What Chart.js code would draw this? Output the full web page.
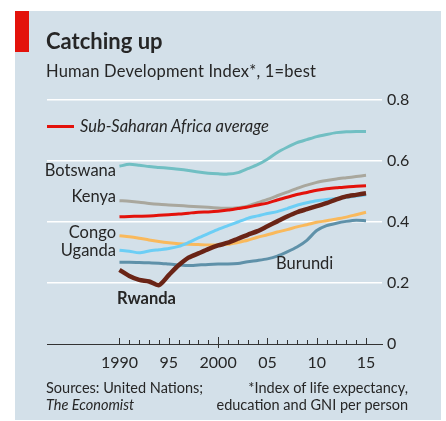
<!DOCTYPE html>
<html>
<head>
<meta charset="utf-8">
<script src="https://cdn.jsdelivr.net/npm/chart.js@4.4.1/dist/chart.umd.min.js"></script>
<style>
  html, body { margin: 0; padding: 0; background: #fff; }
  #wrap { position: relative; width: 446px; height: 421px; overflow: hidden; font-family: Lato, "Open Sans", sans-serif; color: #262626; }
  #bg { position: absolute; left: 15px; top: 11px; width: 426px; height: 409px; background: #d3e0e9; }
  #bar { position: absolute; left: 15px; top: 11px; width: 14px; height: 41px; background: #e3120b; }
  #wrap canvas { position: absolute; left: 0; top: 0; }
  .t { position: absolute; line-height: 1; white-space: nowrap; }
  .title { left: 46px; top: 30px; font-size: 22px; font-weight: bold; }
  .sub { left: 46px; top: 63px; font-size: 16.5px; letter-spacing: 0.2px; }
  .leg { left: 80px; top: 118px; font-size: 16.5px; font-style: italic; }
  .legline { position: absolute; left: 47px; top: 125px; width: 27px; height: 2.5px; background: #e3120b; }
  .lab { font-size: 16.5px; }
  .r { text-align: right; }
  .src { font-size: 14.5px; }
</style>
</head>
<body>
<div id="wrap">
  <div id="bg"></div>
  <div id="bar"></div>
  <canvas id="c" width="446" height="421"></canvas>
  <div class="t title">Catching up</div>
  <div class="t sub">Human Development Index*, 1=best</div>
  <div class="legline"></div>
  <div class="t leg">Sub-Saharan Africa average</div>
  <div class="t lab r" style="right:330px; top:162px;">Botswana</div>
  <div class="t lab r" style="right:330px; top:188px;">Kenya</div>
  <div class="t lab r" style="right:330px; top:224px;">Congo</div>
  <div class="t lab r" style="right:330px; top:242px;">Uganda</div>
  <div class="t lab" style="left:276px; top:255px;">Burundi</div>
  <div class="t lab" style="left:117px; top:290px; font-weight:bold;">Rwanda</div>
  <div class="t src" style="left:46px; top:381px;">Sources: United Nations;</div>
  <div class="t src" style="left:46px; top:398px; font-style:italic;">The Economist</div>
  <div class="t src r" style="right:38px; top:381px;">*Index of life expectancy,</div>
  <div class="t src r" style="right:38px; top:398px;">education and GNI per person</div>
</div>
<script>
  const years = [1990, 1991, 1992, 1993, 1994, 1995, 1996, 1997, 1998, 1999, 2000, 2001, 2002,
                 2003, 2004, 2005, 2006, 2007, 2008, 2009, 2010, 2011, 2012, 2013, 2014, 2015];

  const botswana = [0.583, 0.589, 0.586, 0.582, 0.579, 0.576, 0.573, 0.569, 0.564, 0.560, 0.558, 0.557, 0.562,
                    0.575, 0.588, 0.606, 0.628, 0.645, 0.660, 0.670, 0.680, 0.687, 0.693, 0.696, 0.697, 0.697];
  const kenya = [0.470, 0.468, 0.465, 0.461, 0.458, 0.456, 0.454, 0.452, 0.450, 0.448, 0.446, 0.445, 0.447,
                 0.452, 0.463, 0.474, 0.486, 0.498, 0.510, 0.521, 0.530, 0.536, 0.541, 0.545, 0.549, 0.553];
  const ssAfrica = [0.417, 0.418, 0.419, 0.420, 0.422, 0.424, 0.426, 0.429, 0.432, 0.433, 0.435, 0.439, 0.444,
                    0.449, 0.456, 0.462, 0.472, 0.481, 0.490, 0.497, 0.504, 0.509, 0.512, 0.515, 0.517, 0.519];
  const congo = [0.355, 0.352, 0.347, 0.341, 0.336, 0.332, 0.329, 0.327, 0.326, 0.325, 0.325, 0.327, 0.333,
                 0.340, 0.350, 0.358, 0.367, 0.375, 0.384, 0.391, 0.399, 0.404, 0.410, 0.416, 0.424, 0.432];
  const uganda = [0.307, 0.304, 0.299, 0.305, 0.309, 0.313, 0.320, 0.333, 0.348, 0.362, 0.376, 0.388, 0.400,
                  0.412, 0.420, 0.428, 0.434, 0.444, 0.455, 0.463, 0.470, 0.474, 0.477, 0.481, 0.485, 0.489];
  const burundi = [0.268, 0.268, 0.267, 0.266, 0.265, 0.262, 0.259, 0.257, 0.259, 0.261, 0.262, 0.262, 0.264,
                   0.270, 0.274, 0.279, 0.288, 0.302, 0.318, 0.340, 0.372, 0.388, 0.396, 0.402, 0.406, 0.404];
  const rwanda = [0.243, 0.223, 0.210, 0.205, 0.193, 0.226, 0.258, 0.283, 0.297, 0.311, 0.323, 0.332, 0.345,
                  0.358, 0.370, 0.386, 0.402, 0.418, 0.432, 0.442, 0.452, 0.462, 0.474, 0.484, 0.489, 0.494];

  const yTicks = [0, 0.2, 0.4, 0.6, 0.8];

  const pts = (arr) => arr.map((v, i) => ({ x: years[i], y: v }));
  const line = (data, color, width) => ({
    data: pts(data), borderColor: color, borderWidth: width || 3,
    pointRadius: 0, tension: 0.25, fill: false
  });

  // small tick marks sitting on top of the x axis
  const axisTicks = {
    id: "axisTicks",
    afterDraw(chart) {
      const { ctx, scales: { x }, chartArea } = chart;
      const y0 = chartArea.bottom;
      ctx.save();
      ctx.strokeStyle = "#333";
      ctx.lineWidth = 1;
      for (const yr of years) {
        const px = Math.round(x.getPixelForValue(yr)) + 0.5;
        let up = 4, down = 0;
        if (yr % 5 === 0) up = 6;
        if (yr === 2000) { up = 7; down = 4; }
        ctx.beginPath();
        ctx.moveTo(px, y0 - up);
        ctx.lineTo(px, y0 + down);
        ctx.stroke();
      }
      ctx.restore();
    }
  };

  new Chart(document.getElementById("c"), {
    type: "line",
    data: {
      datasets: [
        line(rwanda, "#6a2416", 4.5),
        line(ssAfrica, "#e3120b"),
        line(uganda, "#6ccef5"),
        line(congo, "#f9b95c"),
        line(burundi, "#5f91a9"),
        line(kenya, "#a9a79d"),
        line(botswana, "#71bfc3")
      ]
    },
    options: {
      responsive: false,
      animation: false,
      layout: { padding: { left: 47, top: 100, right: 0, bottom: 0 } },
      plugins: { legend: { display: false }, tooltip: { enabled: false } },
      scales: {
        x: {
          type: "linear",
          min: 1982.65,
          max: 2016.62,
          afterBuildTicks: (s) => { s.ticks = years.map(v => ({ value: v })); },
          afterFit: (s) => { s.height = 77; },
          grid: { display: false, drawTicks: false },
          border: { display: true, color: "#333", width: 1 },
          ticks: {
            autoSkip: false, maxRotation: 0, padding: 9,
            color: "#262626",
            font: { family: "Lato", size: 16 },
            callback: (v) => v % 5 !== 0 ? "" : (v === 1990 || v === 2000 ? String(v) : String(v).slice(2))
          }
        },
        y: {
          position: "right",
          min: 0,
          max: 0.8,
          afterBuildTicks: (s) => { s.ticks = yTicks.map(v => ({ value: v })); },
          afterFit: (s) => { s.width = 64; },
          grid: {
            drawTicks: false,
            lineWidth: 1.5,
            color: (c) => c.tick && c.tick.value === 0 ? "rgba(0,0,0,0)" : "#ffffff"
          },
          border: { display: false },
          ticks: {
            padding: 5,
            color: "#262626",
            font: { family: "Lato", size: 16 },
            callback: (v) => String(v)
          }
        }
      }
    },
    plugins: [axisTicks]
  });
</script>
</body>
</html>
